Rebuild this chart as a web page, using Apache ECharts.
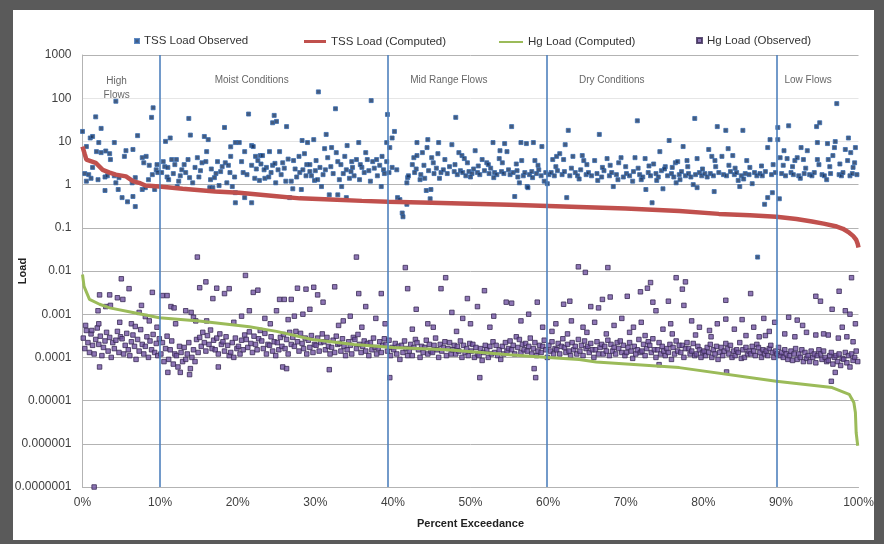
<!DOCTYPE html>
<html>
<head>
<meta charset="utf-8">
<script src="https://cdn.jsdelivr.net/npm/echarts@6/dist/echarts.min.js"></script>
<style>
html,body{margin:0;padding:0;background:#5a5a5a;width:884px;height:544px;overflow:hidden;}
#frame{position:absolute;left:13px;top:10px;width:861px;height:530px;background:#ffffff;}
#chart{position:absolute;left:0;top:0;width:884px;height:544px;}
</style>
</head>
<body>
<div id="frame"></div>
<div id="chart"></div>
<script>
// ---- Data ----
const yTickLabels = ['0.0000001','0.000001','0.00001','0.0001','0.001','0.01','0.1','1','10','100','1000'];
const regionNames = ['High\nFlows','Moist Conditions','Mid Range Flows','Dry Conditions','Low Flows'];
const regionX = [4.4, 21.8, 47.2, 68.2, 93.5];
const regionY = [166, 256, 256, 256, 256];
const zoneBounds = [9.9, 39.3, 59.8, 89.5];

// TSS Load Observed [percent exceedance, load]
const tssObs = [
[0,17],[0.3,1.8],[0.5,1.2],[0.5,7.6],[0.8,1.7],[1,12],[1.1,1.4],[1.3,13],[1.3,2.5],[1.7,37],[1.8,5.8],[2,1.3],[2.1,9.4],[2.4,20],[2.4,5.5],[2.9,1.5],[2.9,0.73],[3,6],[3.2,1.6],[3.5,5.2],[3.6,3.8],[4.1,9.4],[4.1,1.6],[4.3,85],[4.3,1.1],[4.6,0.77],[4.7,1.45],[5.1,0.5],[5.4,4.5],[5.6,6.1],[5.8,0.4],[6.4,1.1],[6.5,0.53],[6.8,0.31],[6.8,1.45],[7.1,13.6],[7.7,4.2],[7.7,0.77],[7.9,3.2],[8.1,0.85],[8.5,1.3],[8.6,2.8],[8.9,36],[9,1.7],[9.1,60],[9.3,0.77],[9.5,2.2],[9.7,1.9],[6.5,6.5],[8.2,4.5],[9.6,2.9],
[10.4,3.4],[10.6,2.6],[10.7,10],[10.9,1.5],[11,2.5],[11.1,1.3],[11.3,12],[11.5,3.8],[11.7,1.8],[12.1,3.8],[12.4,1.2],[12.8,2.2],[13.1,2.9],[13.7,34],[13.6,3.8],[13.9,14],[13.8,1.45],[14.5,2.5],[15,1.5],[15.4,3.2],[15.7,13],[15.9,3.4],[16,5.8],[16.2,11],[16.5,1.3],[17,1.45],[17.4,3.4],[18,2.6],[18.3,21],[18.4,3.2],[19.1,7.5],[19.1,4.5],[19,1.9],[19.6,1.5],[19.7,9.4],[19.7,0.65],[19.7,0.38],[12.2,0.9],[14.2,1.1],[16.8,0.85],[18.6,1.1],[17.8,2],[16.4,0.85],[17.6,0.95],[19.3,0.9],
[10.2,1.9],[11.9,2.9],[12.6,1.6],[13.3,1.9],[14.8,4.2],[15.2,2.1],[16.6,2.3],[17.2,1.8],[18.8,2.8],
[20.2,9.4],[20.7,1.9],[20.9,5.8],[20.9,0.5],[21.4,43],[21.8,8],[21.8,2.8],[21.8,0.38],[22,7.6],[22.2,1.4],[22.3,4.5],[22.4,2.3],[22.8,1.25],[22.9,4.7],[23.2,4.7],[23.5,1.4],[23.7,2.5],[24,1.5],[24.1,5.8],[24.5,27],[24.5,2.8],[24.7,40],[24.9,1.1],[25,29],[25.4,5.8],[25.8,3.2],[26.2,1.2],[26.3,22],[26.7,0.5],[26.9,1.2],[27.1,0.8],[27.6,1.5],[28,1.9],[28.2,0.77],[28.3,10.5],[28.4,2.2],[28.9,2.9],[29,9.4],[29.3,2.9],[29.3,2],[29.8,11],[29.9,1.25],[30.3,1.3],[30.4,140],[30.8,0.9],[31.2,6.8],[31.4,14.5],[31.8,0.58],[32,2.6],[32.1,7.2],[32.6,57],[32.7,5.5],[32.9,3.4],[32.9,0.58],[33.1,1.3],[33.4,0.9],[34,2.2],[34,0.5],[34.1,8],[34.7,3.4],[34.8,2.5],[35.3,3.8],[35.6,9.4],[35.7,1.3],[36,2.5],[36.5,5.5],[36.7,3.8],[37.1,1.2],[37.2,88],[37.4,3.4],[37.9,3.8],[38.3,2.8],[38.5,0.9],[38.8,2.2],[39.2,3.4],[39.2,9.4],[39.3,42],[39.6,7.2],[39.9,2.5],[39.9,12],[40.2,17],[40.5,2.2],[40.6,0.5],
[23,3],[26,2.4],[27.2,3.6],[30,2.1],[31,1.7],[33.6,1.8],[35,1.6],[36.3,1.9],[38,1.6],[31.6,4.2],[27.9,4.5],[29.5,1.6],[25.2,2.2],[24.3,1.9],[36.9,2.1],[38.9,1.8],[33.8,4.5],[28.6,5.2],[30.6,2.5],[34.4,1.4],
[20.5,3.4],[21.2,1.7],[22.6,3.6],[23.4,2.2],[24.8,3.1],[25.6,1.7],[26.5,3.9],[27.4,2.3],[28.8,1.6],[30.1,3.6],[31.3,2.2],[32.3,1.8],[33.3,2.9],[34.6,2],[35.8,2.9],[37.6,2.4],[38.6,4.5],[39.5,1.9],
[40.9,0.45],[41.2,0.22],[41.3,0.18],[41.8,0.35],[41.8,1.1],[41.9,1.45],[42.5,2.9],[42.7,4.2],[43,2.3],[43.1,4.7],[43.1,9.4],[43.5,1.3],[43.8,5.5],[44.1,1.4],[44.3,0.73],[44.4,7.2],[44.5,11],[44.8,0.47],[44.9,0.77],[45,4.2],[45.2,3.2],[45.8,5.2],[45.9,9.4],[46.7,3.8],[47.6,8.4],[48.1,36],[48.5,5.5],[48.9,4.7],[49.2,4],[49.6,3.2],[50.6,6.1],[51.5,3.8],[52.1,3.2],[52.9,9.4],[53.7,4],[53.8,6.1],[54.1,3.2],[54.4,8.9],[54.7,5.8],[55.3,22],[55.7,0.53],[56.3,1.1],[56.5,9.4],[56.6,3.6],[57.2,8.9],[57.3,0.9],[57.4,0.85],[58.1,9.4],[58.3,3.6],[59.2,7.6],[59.5,1.2],[59.9,1.05],[60.6,3.8],[61.1,4.5],
[42,1.6],[42.8,1.9],[43.6,1.7],[44.6,2.1],[45.3,1.8],[45.6,2.4],[46.2,1.9],[46.5,2.2],[47,1.8],[47.3,2.6],[47.9,2],[48.3,1.7],[48.7,2.1],[49,1.9],[49.4,1.6],[49.8,2.0],[50.2,1.8],[50.4,2.3],[50.9,1.9],[51.2,1.7],[51.8,2.1],[52.4,1.8],[52.6,2.4],[53.1,1.9],[53.4,1.7],[54,2.0],[54.3,1.8],[54.9,2.2],[55.1,1.7],[55.5,1.9],[56,2.1],[56.8,1.6],[57,1.9],[57.6,1.7],[57.9,2.0],[58.5,1.8],[58.8,2.2],[59.1,1.6],[59.7,1.9],[60.1,1.7],[46,1.4],[50,1.5],[53,1.45],[56.1,1.5],[58,1.45],[44,2.8],[48,2.9],[51,2.7],[55.9,3],[52.3,2.9],[58.7,2.8],
[61.5,5.2],[62,3.8],[62.2,8.4],[62.4,0.5],[62.6,18],[63.2,4.5],[64.4,4.7],[64.6,3.6],[66,3.6],[66.6,14.5],[67.6,4],[68.4,0.9],[69.1,3.2],[69.4,4.2],[70.9,1.2],[71.2,4.2],[71.5,30],[72.5,4],[72.6,0.77],[73.4,0.38],[73.6,3],[74.4,5.8],[74.8,0.8],[75.1,2.6],[75.6,10.5],[76.4,3.2],[76.5,1.1],[76.7,3.4],[77.4,7.6],[77.9,3.6],[78.7,1],[78.9,34],[79.2,4],[79.2,0.85],[80.7,6.5],[81.1,4.5],[81.4,0.69],[81.5,3.6],[81.8,22],
[60.4,1.9],[60.8,1.6],[61.2,2.1],[61.8,1.7],[62.1,2],[62.8,1.6],[63.5,1.9],[63.8,1.6],[64.2,2.2],[64.9,1.7],[65.2,1.9],[65.6,1.6],[66.3,1.8],[66.9,1.5],[67.2,2.1],[67.9,1.6],[68.2,1.9],[68.8,1.7],[69.7,1.5],[70.1,1.8],[70.5,1.6],[71,2],[71.8,1.7],[72.2,1.5],[72.9,1.9],[73.2,1.6],[73.9,1.8],[74.2,1.5],[74.6,2.1],[75.4,1.6],[75.9,1.8],[76.2,1.5],[76.9,1.7],[77.2,2],[77.7,1.6],[78.1,1.8],[78.4,1.5],[79,1.7],[79.5,1.9],[79.8,1.6],[80.2,1.8],[80.5,1.5],[61,2.6],[63,2.4],[65,2.9],[67,2.5],[68,2.8],[70,2.6],[71.6,2.4],[73,2.7],[75,2.3],[76,2.5],[78,2.6],[79.9,2.3],[69,1.3],[72,1.3],[74,1.25],[77,1.3],[64,1.35],[66.4,1.25],
[82.4,4.5],[82.9,18],[83.2,6.8],[83.8,4.7],[84.5,1.25],[84.7,0.9],[85.1,18],[85.6,3.6],[86.3,1.05],[87.9,0.35],[88.3,7.2],[88.3,0.5],[88.6,11],[88.9,0.65],[89,2.9],[89.6,21],[89.6,11],[89.8,0.47],[89.9,4.2],[90.4,6.1],[90.8,4],[91,23],[91.8,3.6],[92.1,4.2],[92.6,7.2],[92.9,3.8],[93.4,6.1],[94.6,22],[94.7,9.4],[94.7,3.8],[95,27],[96,8.9],[96.1,3.8],[96.7,4.7],[96.9,7.2],[97,9.9],[97.2,75],[98.3,6.5],[98.6,3.6],[98.7,12],[99,5.5],[99.5,3.2],[99.6,7.2],[87,0.021],
[80.9,1.8],[81.3,1.6],[82,1.9],[82.6,1.7],[83,1.6],[83.5,2],[84,1.7],[84.3,1.9],[84.9,1.6],[85.4,1.8],[85.9,1.7],[86.6,1.9],[86.9,1.6],[87.3,1.8],[87.6,1.6],[88,2],[88.8,1.7],[89.3,1.9],[90.1,1.8],[90.6,1.6],[91.3,1.9],[91.6,1.7],[92.3,1.6],[93,1.8],[93.7,1.7],[94,1.6],[94.3,1.9],[95.3,1.7],[95.6,1.6],[96.4,1.8],[97.5,1.7],[97.8,1.6],[98,1.9],[98.9,1.6],[99.2,1.8],[99.8,1.7],[81.6,2.6],[83.3,2.8],[84.1,2.4],[86,2.5],[87.5,2.7],[90.3,2.8],[91.5,2.6],[93.2,2.4],[94.9,2.9],[96.3,2.6],[97.6,3],[99.3,2.5],[85.2,1.35],[92.5,1.4],[95.9,1.3]
];

// TSS Load (Computed)
const tssComp = [
[0,7.6],[0.3,5],[0.5,3.8],[1.7,3.2],[2.6,2.2],[3.5,1.9],[4.3,1.7],[5.6,1.55],[6.5,1.2],[7.3,1.1],[8.1,0.95],[9.9,0.9],[12.9,0.8],[17.1,0.69],[20.2,0.65],[25,0.54],[28,0.48],[32,0.45],[36,0.42],[39.4,0.40],[45,0.38],[50,0.36],[55,0.34],[60,0.32],[65,0.3],[70,0.28],[76.9,0.245],[82,0.21],[86,0.195],[89.4,0.18],[92,0.16],[94,0.14],[95.5,0.125],[97.2,0.107],[98,0.095],[98.8,0.077],[99.3,0.065],[99.7,0.053],[99.9,0.042],[100,0.035]
];

// Hg Load (Computed)
const hgComp = [
[0,8.3e-3],[0.2,4.4e-3],[0.9,2.2e-3],[2.2,1.7e-3],[3.5,1.4e-3],[6.5,1.1e-3],[9.9,8.3e-4],[15,7e-4],[21.5,5.1e-4],[25,4e-4],[29.6,2.6e-4],[35,2.0e-4],[40,1.7e-4],[47,1.5e-4],[55,1.15e-4],[60,1e-4],[64,8.9e-5],[66.2,7.8e-5],[76.9,5.8e-5],[89.4,2.8e-5],[96.6,2e-5],[98.8,1.4e-5],[99.4,9e-6],[99.6,5.3e-6],[99.7,1.8e-6],[99.9,9e-7]
];

// Hg Load (Observed)
const hgObs = [
[0.1,2.8e-4],[0.3,1.6e-4],[0.5,4.2e-4],[0.7,2.2e-4],[0.9,1.3e-4],
[1.1,3.5e-4],[1.3,1.9e-4],[1.5,1.2e-4],[1.7,2.6e-4],[1.9,4.8e-4],
[2.1,2.0e-4],[2.3,3.1e-4],[2.5,1.1e-4],[2.7,1.7e-4],[2.9,2.4e-4],
[3.1,3.8e-4],[3.3,1.4e-4],[3.5,2.9e-4],[3.7,1.0e-4],[3.9,2.2e-4],
[4.1,1.6e-4],[4.3,2.5e-4],[4.5,4.0e-4],[4.7,1.3e-4],[4.9,3.0e-4],
[5.1,2.7e-4],[5.3,1.2e-4],[5.5,1.9e-4],[5.7,3.6e-4],[5.9,1.5e-4],
[6.1,1.1e-4],[6.3,2.3e-4],[6.5,3.3e-4],[6.7,1.8e-4],[6.9,9e-5],
[7.1,2.6e-4],[7.3,1.4e-4],[7.5,4.4e-4],[7.7,2.0e-4],[7.9,1.2e-4],
[8.1,1.8e-4],[8.3,3.0e-4],[8.5,1.0e-4],[8.7,2.4e-4],[8.9,1.5e-4],
[9.1,3.4e-4],[9.3,1.3e-4],[9.5,2.1e-4],[9.7,1.1e-4],[9.9,2.7e-4],
[10.1,1.2e-4],[10.3,2.2e-4],[10.5,8e-5],[10.7,1.6e-4],[10.9,3.1e-4],
[11.1,9e-5],[11.3,1.5e-4],[11.5,2.4e-4],[11.7,7e-5],[11.9,1.2e-4],
[12.1,1.1e-4],[12.3,6e-5],[12.5,1.8e-4],[12.7,1.3e-4],[12.9,8e-5],
[13.1,1.7e-4],[13.3,9e-5],[13.5,1.2e-4],[13.7,2.2e-4],[13.9,5.5e-5],
[14.1,1.0e-4],[14.3,1.5e-4],[14.5,8e-5],[14.7,2.6e-4],[14.9,1.3e-4],
[15.1,2.9e-4],[15.3,1.8e-4],[15.5,3.8e-4],[15.7,2.2e-4],[15.9,1.4e-4],
[16.1,3.2e-4],[16.3,2.0e-4],[16.5,4.3e-4],[16.7,1.6e-4],[16.9,2.5e-4],
[17.1,1.5e-4],[17.3,2.8e-4],[17.5,1.2e-4],[17.7,3.5e-4],[17.9,2.0e-4],
[18.1,2.3e-4],[18.3,1.4e-4],[18.5,3.0e-4],[18.7,1.9e-4],[18.9,1.1e-4],
[19.1,1.3e-4],[19.3,2.2e-4],[19.5,1.0e-4],[19.7,2.8e-4],[19.9,1.6e-4],
[20.1,1.8e-4],[20.3,1.2e-4],[20.5,2.5e-4],[20.7,1.5e-4],[20.9,3.3e-4],
[21.1,2.6e-4],[21.3,1.7e-4],[21.5,3.9e-4],[21.7,2.1e-4],[21.9,1.3e-4],
[22.1,3.1e-4],[22.3,2.0e-4],[22.5,1.5e-4],[22.7,2.7e-4],[22.9,4.2e-4],
[23.1,2.4e-4],[23.3,1.6e-4],[23.5,3.6e-4],[23.7,1.2e-4],[23.9,2.0e-4],
[24.1,1.9e-4],[24.3,3.0e-4],[24.5,1.4e-4],[24.7,2.3e-4],[24.9,1.1e-4],
[25.1,2.2e-4],[25.3,1.5e-4],[25.5,2.9e-4],[25.7,1.8e-4],[25.9,3.4e-4],
[26.1,1.6e-4],[26.3,2.6e-4],[26.5,1.2e-4],[26.7,3.8e-4],[26.9,2.0e-4],
[27.1,2.9e-4],[27.3,1.8e-4],[27.5,4.0e-4],[27.7,2.3e-4],[27.9,1.4e-4],
[28.1,3.6e-4],[28.3,2.1e-4],[28.5,1.6e-4],[28.7,2.8e-4],[28.9,1.2e-4],
[29.1,2.5e-4],[29.3,1.7e-4],[29.5,3.2e-4],[29.7,1.3e-4],[29.9,2.0e-4],
[30.1,1.9e-4],[30.3,2.8e-4],[30.5,1.4e-4],[30.7,2.2e-4],[30.9,3.5e-4],
[31.1,2.3e-4],[31.3,1.5e-4],[31.5,2.9e-4],[31.7,1.8e-4],[31.9,1.2e-4],
[32.1,1.7e-4],[32.3,2.5e-4],[32.5,1.3e-4],[32.7,3.1e-4],[32.9,2.0e-4],
[33.1,2.1e-4],[33.3,1.4e-4],[33.5,2.7e-4],[33.7,1.8e-4],[33.9,1.1e-4],
[34.1,1.5e-4],[34.3,2.3e-4],[34.5,1.9e-4],[34.7,1.2e-4],[34.9,2.9e-4],
[35.1,2.6e-4],[35.3,1.6e-4],[35.5,3.4e-4],[35.7,2.0e-4],[35.9,1.3e-4],
[36.1,1.8e-4],[36.3,2.4e-4],[36.5,1.4e-4],[36.7,2.1e-4],[36.9,1.1e-4],
[37.1,2.2e-4],[37.3,1.5e-4],[37.5,2.8e-4],[37.7,1.7e-4],[37.9,1.2e-4],
[38.1,1.6e-4],[38.3,2.3e-4],[38.5,1.3e-4],[38.7,1.9e-4],[38.9,2.7e-4],
[39.1,2.0e-4],[39.3,1.4e-4],[39.5,2.5e-4],[39.7,1.1e-4],[39.9,1.7e-4],
[40.1,1.5e-4],[40.3,2.1e-4],[40.5,1.2e-4],[40.7,1.8e-4],[40.9,9e-5],
[41.1,1.9e-4],[41.3,1.3e-4],[41.5,2.4e-4],[41.7,1.6e-4],[41.9,1.1e-4],
[42.1,1.4e-4],[42.3,2.0e-4],[42.5,1.1e-4],[42.7,1.7e-4],[42.9,2.6e-4],
[43.1,2.2e-4],[43.3,1.5e-4],[43.5,1.0e-4],[43.7,1.8e-4],[43.9,1.3e-4],
[44.1,1.7e-4],[44.3,2.5e-4],[44.5,1.2e-4],[44.7,2.0e-4],[44.9,1.4e-4],
[45.1,1.3e-4],[45.3,1.9e-4],[45.5,2.8e-4],[45.7,1.5e-4],[45.9,1.0e-4],
[46.1,2.0e-4],[46.3,1.4e-4],[46.5,1.7e-4],[46.7,2.3e-4],[46.9,1.1e-4],
[47.1,1.6e-4],[47.3,2.2e-4],[47.5,1.2e-4],[47.7,1.5e-4],[47.9,1.9e-4],
[48.1,1.2e-4],[48.3,1.8e-4],[48.5,1.4e-4],[48.7,2.4e-4],[48.9,1.0e-4],
[49.1,1.9e-4],[49.3,1.3e-4],[49.5,1.6e-4],[49.7,1.1e-4],[49.9,2.1e-4],
[50.1,1.4e-4],[50.3,2.0e-4],[50.5,1.0e-4],[50.7,1.7e-4],[50.9,1.2e-4],
[51.1,1.1e-4],[51.3,1.6e-4],[51.5,8.5e-5],[51.7,1.3e-4],[51.9,1.9e-4],
[52.1,1.5e-4],[52.3,1.0e-4],[52.5,1.8e-4],[52.7,1.2e-4],[52.9,2.3e-4],
[53.1,1.3e-4],[53.3,1.9e-4],[53.5,1.1e-4],[53.7,1.5e-4],[53.9,9e-5],
[54.1,1.8e-4],[54.3,1.2e-4],[54.5,2.2e-4],[54.7,1.4e-4],[54.9,1.6e-4],
[55.1,2.4e-4],[55.3,1.5e-4],[55.5,1.9e-4],[55.7,1.2e-4],[55.9,3.0e-4],
[56.1,1.7e-4],[56.3,2.6e-4],[56.5,1.3e-4],[56.7,2.0e-4],[56.9,1.5e-4],
[57.1,2.1e-4],[57.3,1.4e-4],[57.5,1.8e-4],[57.7,2.8e-4],[57.9,1.2e-4],
[58.1,1.6e-4],[58.3,2.2e-4],[58.5,1.1e-4],[58.7,1.4e-4],[58.9,1.9e-4],
[59.1,1.3e-4],[59.3,1.8e-4],[59.5,2.5e-4],[59.7,1.5e-4],[59.9,1.0e-4],
[60.1,1.9e-4],[60.3,1.4e-4],[60.5,2.3e-4],[60.7,1.2e-4],[60.9,1.6e-4],
[61.1,1.5e-4],[61.3,2.1e-4],[61.5,1.2e-4],[61.7,1.8e-4],[61.9,2.7e-4],
[62.1,1.7e-4],[62.3,1.3e-4],[62.5,2.0e-4],[62.7,1.4e-4],[62.9,1.1e-4],
[63.1,2.2e-4],[63.3,1.5e-4],[63.5,1.8e-4],[63.7,1.2e-4],[63.9,2.6e-4],
[64.1,1.4e-4],[64.3,1.9e-4],[64.5,1.1e-4],[64.7,2.4e-4],[64.9,1.6e-4],
[65.1,1.8e-4],[65.3,1.3e-4],[65.5,2.1e-4],[65.7,1.5e-4],[65.9,1.0e-4],
[66.1,1.5e-4],[66.3,2.3e-4],[66.5,1.2e-4],[66.7,1.7e-4],[66.9,2.0e-4],
[67.1,1.2e-4],[67.3,1.8e-4],[67.5,1.4e-4],[67.7,2.5e-4],[67.9,1.1e-4],
[68.1,2.0e-4],[68.3,1.4e-4],[68.5,1.7e-4],[68.7,1.2e-4],[68.9,2.2e-4],
[69.1,1.6e-4],[69.3,2.4e-4],[69.5,1.3e-4],[69.7,1.9e-4],[69.9,1.1e-4],
[70.1,1.3e-4],[70.3,1.7e-4],[70.5,2.2e-4],[70.7,1.4e-4],[70.9,9.5e-5],
[71.1,1.8e-4],[71.3,1.2e-4],[71.5,1.5e-4],[71.7,2.6e-4],[71.9,1.3e-4],
[72.1,1.4e-4],[72.3,2.0e-4],[72.5,1.1e-4],[72.7,1.6e-4],[72.9,2.3e-4],
[73.1,1.9e-4],[73.3,1.3e-4],[73.5,2.7e-4],[73.7,1.5e-4],[73.9,1.0e-4],
[74.1,1.5e-4],[74.3,2.2e-4],[74.5,1.2e-4],[74.7,1.8e-4],[74.9,1.4e-4],
[75.1,1.1e-4],[75.3,1.6e-4],[75.5,1.3e-4],[75.7,2.0e-4],[75.9,9e-5],
[76.1,1.7e-4],[76.3,1.2e-4],[76.5,2.4e-4],[76.7,1.4e-4],[76.9,1.9e-4],
[77.1,1.3e-4],[77.3,1.9e-4],[77.5,1.0e-4],[77.7,1.6e-4],[77.9,2.2e-4],
[78.1,1.6e-4],[78.3,1.2e-4],[78.5,1.4e-4],[78.7,2.1e-4],[78.9,1.1e-4],
[79.1,1.2e-4],[79.3,1.8e-4],[79.5,1.5e-4],[79.7,1.0e-4],[79.9,1.3e-4],
[80.1,1.4e-4],[80.3,1.1e-4],[80.5,1.7e-4],[80.7,1.3e-4],[80.9,2.0e-4],
[81.1,1.0e-4],[81.3,1.5e-4],[81.5,1.2e-4],[81.7,1.8e-4],[81.9,9e-5],
[82.1,1.3e-4],[82.3,1.7e-4],[82.5,1.1e-4],[82.7,1.4e-4],[82.9,2.1e-4],
[83.1,1.6e-4],[83.3,1.2e-4],[83.5,1.9e-4],[83.7,1.0e-4],[83.9,1.4e-4],
[84.1,1.1e-4],[84.3,1.5e-4],[84.5,1.3e-4],[84.7,2.2e-4],[84.9,9.5e-5],
[85.1,1.5e-4],[85.3,1.0e-4],[85.5,1.7e-4],[85.7,1.2e-4],[85.9,1.4e-4],
[86.1,1.2e-4],[86.3,1.8e-4],[86.5,1.4e-4],[86.7,1.1e-4],[86.9,2.0e-4],
[87.1,1.7e-4],[87.3,1.3e-4],[87.5,1.0e-4],[87.7,1.5e-4],[87.9,1.2e-4],
[88.1,1.4e-4],[88.3,1.1e-4],[88.5,1.6e-4],[88.7,1.9e-4],[88.9,1.3e-4],
[89.1,1.0e-4],[89.3,1.4e-4],[89.5,1.2e-4],[89.7,1.7e-4],[89.9,1.1e-4],
[90.1,1.3e-4],[90.3,1.0e-4],[90.5,1.5e-4],[90.7,1.2e-4],[90.9,9e-5],
[91.1,1.1e-4],[91.3,1.4e-4],[91.5,8.5e-5],[91.7,1.2e-4],[91.9,1.6e-4],
[92.1,9e-5],[92.3,1.2e-4],[92.5,1.0e-4],[92.7,1.5e-4],[92.9,8e-5],
[93.1,1.3e-4],[93.3,9.5e-5],[93.5,1.1e-4],[93.7,8e-5],[93.9,1.4e-4],
[94.1,1.0e-4],[94.3,1.2e-4],[94.5,7.5e-5],[94.7,1.1e-4],[94.9,1.5e-4],
[95.1,1.2e-4],[95.3,9e-5],[95.5,1.4e-4],[95.7,1.0e-4],[95.9,8e-5],
[96.1,8.5e-5],[96.3,1.1e-4],[96.5,1.3e-4],[96.7,7e-5],[96.9,1.0e-4],
[97.1,1.1e-4],[97.3,8e-5],[97.5,1.2e-4],[97.7,6.5e-5],[97.9,9.5e-5],
[98.1,9e-5],[98.3,1.3e-4],[98.5,7.5e-5],[98.7,1.1e-4],[98.9,6e-5],
[99.1,1.2e-4],[99.3,8.5e-5],[99.5,1.0e-4],[99.7,1.4e-4],[99.9,8e-5],
[0.4,5.5e-4],[1.2,4.2e-4],[2,1.2e-3],[2.1,6e-4],[2.2,2.8e-3],[3,1.5e-3],[3.5,2.8e-3],[3.6,1.6e-3],[4.5,2.4e-3],[5,6.6e-3],[5.2,2.2e-3],[6,3.9e-3],[6.3,6e-4],[7.6,1.6e-3],[7.3,1.1e-3],[8.1,8.8e-4],[9,3.2e-3],[9.6,5e-4],[2.2,6e-5],[4.8,6.5e-4],[6.8,5.2e-4],[8.6,7e-4],
[10.3,2.7e-3],[10.9,2.7e-3],[11.4,1.5e-3],[11.8,1.4e-3],[13.3,1.2e-3],[14,1.1e-3],[14.3,8.5e-4],[12.6,4.5e-5],[11,4.5e-5],[13.8,4e-5],[12,6e-4],[14.6,7e-4],
[14.8,2.1e-2],[15.9,5.6e-3],[15.1,4.1e-3],[16.8,2.3e-3],[17.3,4e-3],[18.3,3e-3],[18.9,3.9e-3],[21,7.9e-3],[22,3.2e-3],[22.6,3.6e-3],[21.5,1.2e-3],[17.5,6e-5],[16,7e-4],[19.5,6.5e-4],[20.5,9e-4],
[25.4,2.2e-3],[26,2.2e-3],[26.9,2.2e-3],[27.7,4e-3],[25,1.2e-3],[29.3,1.3e-3],[23.5,8e-4],[24.2,6e-4],[26.5,7.5e-4],[27.3,9e-4],[25.8,6e-5],[26.3,5.5e-5],[28.8,3.8e-3],[29.8,4.2e-3],[28.4,1e-3],
[30.3,2.8e-3],[31,1.9e-3],[32.5,4.3e-3],[31.8,5.2e-5],[33.6,7e-4],[35.3,2.1e-2],[35.6,3e-3],[34.5,9e-4],[36.5,1.5e-3],[37.8,8e-4],[38.5,3e-3],[39.6,3.4e-5],[39,6e-4],[36,5e-4],[33,5.5e-4],
[41.6,1.2e-2],[41.9,3.9e-3],[43,1.3e-3],[44.5,6e-4],[46.2,3.9e-3],[46.8,7e-3],[47.6,1.1e-3],[49,8e-4],[50,6e-4],[51.2,3.4e-5],[51.8,3.5e-3],[49.6,2.3e-3],[50.9,1.5e-3],[54.6,1.9e-3],[55.3,1.8e-3],[53,9e-4],[56.5,7e-4],[58.6,1.9e-3],[58.4,3.4e-5],[58.2,5.5e-5],[57.5,1e-3],[59.3,5e-4],[45.2,5e-4],[42.5,4.5e-4],[48.2,4e-4],[52.5,5e-4],
[62,1.7e-3],[63.9,1.25e-2],[64.8,9.3e-3],[67.7,1.2e-2],[62.8,2e-3],[65.5,1.5e-3],[66.5,1.4e-3],[67,2.2e-3],[68,2.5e-3],[70.2,2.6e-3],[71.9,3.3e-3],[72.8,4e-3],[73.2,5.4e-3],[73.5,1.9e-3],[73.9,1.2e-3],[75.5,2e-3],[76.5,7e-3],[77.7,5.6e-3],[77.3,3.8e-3],[77.5,1.6e-3],[82.9,2.1e-3],[82.9,7.7e-4],[85,7.5e-4],[86.1,3e-3],[87.8,8e-4],[83,4.6e-5],[74.3,6.8e-5],[61,6e-4],[63,7e-4],[64.5,5e-4],[66,6.5e-4],[68.5,5.5e-4],[69.5,8e-4],[71,5e-4],[72,6.5e-4],[74.8,4.5e-4],[75.8,6e-4],[78.5,7e-4],[79.5,5e-4],[80.8,4.2e-4],[81.8,6e-4],[84,4.5e-4],[86.5,5e-4],[88.5,4e-4],[89.2,6.5e-4],[60.5,4e-4],[62.5,3.5e-4],[65,3.8e-4],[67.5,3.5e-4],[70.5,3.8e-4],[72.5,3.2e-4],[76,3.5e-4],[79,3.3e-4],[81,3e-4],[85.5,3.2e-4],[87.2,3e-4],[88,3.2e-4],
[91,8.5e-4],[92.1,7.3e-4],[94.5,2.6e-3],[95.1,2e-3],[96.6,1.3e-3],[96.5,2.8e-5],[97.5,3.4e-3],[98.3,1.2e-3],[98.9,1e-3],[99.1,7e-3],[99.6,6e-4],[97.4,2.8e-4],[96.1,3.3e-4],[94.5,3.3e-4],[92.8,5.5e-4],[93.3,3.8e-4],[97.9,5e-4],[99.3,2.3e-4],[90.5,3.5e-4],[91.8,3e-4],[95.5,3.5e-4],[98.5,3e-4],[97,4.5e-5],
[1.5,1e-7]
];

// ---- Chart ----
const chart = echarts.init(document.getElementById('chart'), null, {renderer: 'canvas'});
const txt = '#404040';
const gridColors = ['#b3b3b3','#b3b3b3','#b3b3b3','#b3b3b3','#b3b3b3','#b3b3b3','#b3b3b3','#b3b3b3','#e4e4e4','#e6e6e6','#b3b3b3'];
const fontFam = 'Liberation Sans, Arial, sans-serif';

const legendBase = {top: 26, itemHeight: 12, textStyle: {color: '#333', fontSize: 11.5, fontFamily: fontFam}, selectedMode: false};

chart.setOption({
  animation: false,
  textStyle: {fontFamily: fontFam},
  grid: {left: 82.5, right: 25.5, top: 55, bottom: 57, outerBoundsMode: 'none', containLabel: false},
  legend: [
    Object.assign({}, legendBase, {left: 129, itemWidth: 4, itemHeight: 4, top: 30, data: [{name: 'TSS Load Observed', icon: 'rect'}]}),
    Object.assign({}, legendBase, {left: 299, itemWidth: 22, itemHeight: 3, top: 30.5, data: [{name: 'TSS Load (Computed)', icon: 'rect'}]}),
    Object.assign({}, legendBase, {left: 494, itemWidth: 24, itemHeight: 2, top: 31, data: [{name: 'Hg Load (Computed)', icon: 'rect'}]}),
    Object.assign({}, legendBase, {left: 691, itemWidth: 5, itemHeight: 5, top: 29.5, data: [{name: 'Hg Load (Observed)', icon: 'rect'}]})
  ],
  xAxis: {
    type: 'value', min: 0, max: 100, interval: 10,
    name: 'Percent Exceedance', nameLocation: 'middle', nameGap: 31,
    nameTextStyle: {color: '#222', fontSize: 11, fontWeight: 'bold'},
    axisLine: {show: true, lineStyle: {color: '#b3b3b3'}},
    axisTick: {show: false},
    splitLine: {show: false},
    axisLabel: {color: txt, fontSize: 12, margin: 10, formatter: '{value}%'}
  },
  yAxis: {
    type: 'log', logBase: 10, min: 1e-7, max: 1000, interval: 1,
    name: 'Load', nameLocation: 'middle', nameGap: 54, nameMoveOverlap: false,
    nameTextStyle: {color: '#222', fontSize: 11, fontWeight: 'bold'},
    axisLine: {show: true, lineStyle: {color: '#b3b3b3'}},
    axisTick: {show: false},
    minorTick: {show: false},
    splitLine: {show: true, lineStyle: {color: gridColors, width: 1}},
    axisLabel: {color: txt, fontSize: 12, margin: 11,
      formatter: function (v) { return yTickLabels[Math.round(Math.log10(v)) + 7]; }}
  },
  series: [
    {
      name: 'TSS Load Observed', type: 'scatter', symbol: 'rect', symbolSize: 4,
      itemStyle: {color: '#16325c', borderColor: '#3a6db0', borderWidth: 1},
      data: tssObs,
      markLine: {
        silent: true, symbol: 'none', label: {show: false},
        lineStyle: {color: '#4f81bd', width: 1.6, type: 'solid'},
        data: zoneBounds.map(function (b) { return {xAxis: b}; })
      }
    },
    {
      name: 'TSS Load (Computed)', type: 'line', symbol: 'none', showSymbol: false,
      lineStyle: {color: '#c0504d', width: 4.5}, itemStyle: {color: '#c0504d'},
      data: tssComp
    },
    {
      name: 'Hg Load (Computed)', type: 'line', symbol: 'none', showSymbol: false,
      lineStyle: {color: '#9bbb59', width: 3}, itemStyle: {color: '#9bbb59'},
      data: hgComp
    },
    {
      name: 'Hg Load (Observed)', type: 'scatter', symbol: 'rect', symbolSize: 4.5,
      itemStyle: {color: '#7254a3', borderColor: '#3a2a55', borderWidth: 1},
      data: hgObs
    },
    {
      name: 'zones', type: 'scatter', symbolSize: 1, silent: true,
      itemStyle: {color: 'rgba(0,0,0,0)'},
      label: {show: true, position: 'inside', formatter: '{b}', color: txt, fontSize: 10, lineHeight: 14},
      data: regionNames.map(function (n, i) { return {name: n, value: [regionX[i], regionY[i]]}; })
    }
  ]
});
</script>
</body>
</html>
